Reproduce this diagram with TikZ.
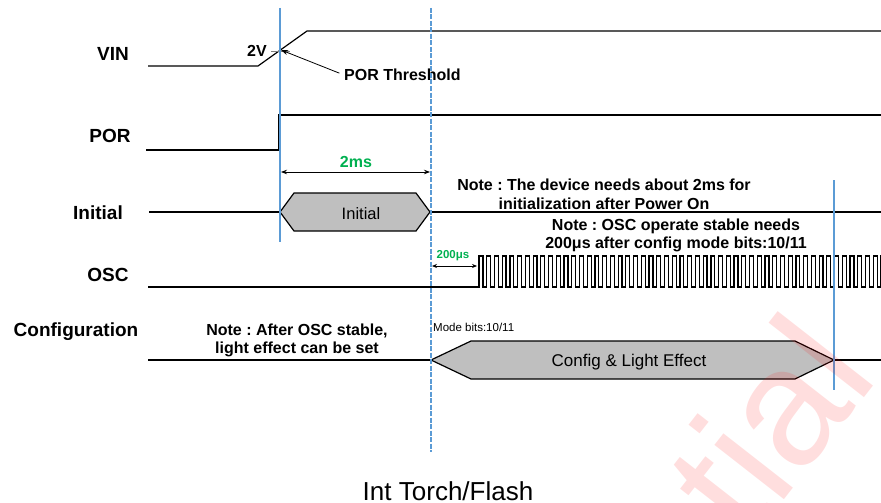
\documentclass[tikz,border=0pt]{standalone}
\usepackage{fontspec}
\setmainfont{Liberation Sans}
\usepackage{xcolor}
\definecolor{tdblue}{RGB}{91,155,213}
\definecolor{tdgreen}{RGB}{0,176,80}
\definecolor{tdgray}{RGB}{191,191,191}
\definecolor{tdtick}{RGB}{127,127,127}
\definecolor{tdred}{RGB}{255,0,0}
\usetikzlibrary{arrows.meta,positioning}
\frenchspacing

\begin{document}
\begin{tikzpicture}[x=1pt,y=-1pt,
  sig/.style={black,line width=1.2pt},
  marker/.style={tdblue,line width=2pt},
  lbl/.style={font=\fontsize{19}{22}\selectfont\bfseries,inner sep=0pt},
  note/.style={font=\fontsize{16}{18.7}\selectfont\bfseries,align=center,inner sep=0pt},
  dimtxt/.style={font=\fontsize{16}{18}\selectfont\bfseries,text=tdgreen,inner sep=0pt},
  dim/.style={{Stealth[length=6pt,width=4.5pt]}-{Stealth[length=6pt,width=4.5pt]},line width=0.8pt},
  busbox/.style={sig,fill=tdgray},
  bustxt/.style={font=\fontsize{16.5}{19}\selectfont,inner sep=0pt}]
  \useasboundingbox (0,0) rectangle (881,503);
  % Signal names
  \node[lbl] (nVIN) at (113,54) {VIN};
  \node[lbl] (nPOR) at (110,136) {POR};
  \node[lbl] (nInit) at (98,213) {Initial};
  \node[lbl] (nOSC) at (108,275) {OSC};
  \node[lbl] (nCfg) at (76,332) {Configuration};
  % VIN
  \coordinate (vth) at (281,50);
  \draw[sig] (148,66) -- (258,66) -- (307,31) -- (881,31);
  \draw[tdtick,line width=0.8pt] (271,51) -- (290,51);
  \node[note,anchor=east] (v2) at (267,51) {2V};
  \node[note,anchor=west] (thr) at (344,75) {POR Threshold};
  \draw[-{Stealth[length=7pt,width=5pt]},line width=0.8pt,shorten <=5pt] (thr.west) -- (vth);
  % POR
  \draw[sig] (146,150) -- (279,150) -- (279,115) -- (881,115);
  \coordinate (t0) at (281,172);
  \coordinate (t1) at (430,172);
  \draw[dim] (t0) -- (t1);
  \node[dimtxt] (d2ms) at (356,162) {2ms};
  % Initial
  \draw[sig] (149,212) -- (280,212);
  \draw[busbox] (280,212) -- (294,193) -- (416,193) -- (430,212) -- (416,231) -- (294,231) -- cycle;
  \draw[sig] (430,212) -- (881,212);
  \node[bustxt] (initbox) at (361,214) {Initial};
  \node[note] (note1) at (604,194) {Note : The device needs about 2ms for\\initialization after Power On};
  % OSC
  \begin{scope}
    \clip (0,0) rectangle (881,503);
    \draw[sig] (148,287) -- (479,287)
      \foreach \k in {1,...,53}{ -- ++(0,-31) -- ++(3.9,0) -- ++(0,31) -- ++(3.83,0)};
  \end{scope}
  \coordinate (s0) at (432,266);
  \coordinate (s1) at (477,266);
  \draw[{Stealth[length=5pt,width=4pt]}-{Stealth[length=5pt,width=4pt]},line width=0.8pt] (s0) -- (s1);
  \node[dimtxt,font=\fontsize{11.5}{13}\selectfont\bfseries] (d200) at (453,256) {200μs};
  \node[note] (note2) at (676,235.5) {Note : OSC operate stable needs\\200μs after config mode bits:10/11};
  % Configuration
  \draw[sig] (148,360) -- (431,360);
  \draw[busbox] (431,360) -- (471,341) -- (795,341) -- (834,360) -- (795,379) -- (471,379) -- cycle;
  \draw[sig] (834,360) -- (881,360);
  \node[bustxt,font=\fontsize{17}{19}\selectfont] (cfgbox) at (629,362) {Config \& Light Effect};
  \node[font=\fontsize{11.5}{13}\selectfont,inner sep=0pt,anchor=west] (mode) at (433,327) {Mode bits:10/11};
  \node[note] (note3) at (297,340.5) {Note : After OSC stable,\\light effect can be set};
  % Timing markers
  \draw[marker] (280,8) -- (280,242);
  \draw[marker,dash pattern=on 5pt off 1.5pt] (431,8) -- (431,452);
  \draw[marker] (834,180) -- (834,390);
  % Caption
  \node[font=\fontsize{26}{30}\selectfont,inner sep=0pt] (title) at (448,491) {Int Torch/Flash};
  % Watermark
  \begin{scope}
    \clip (0,0) rectangle (881,503);
    \node[rotate=52,anchor=base east,inner sep=0pt,text=tdred,text opacity=0.13,
      font=\fontsize{167}{167}\selectfont] (wm) at (880,377) {tial};
  \end{scope}
\end{tikzpicture}
\end{document}
